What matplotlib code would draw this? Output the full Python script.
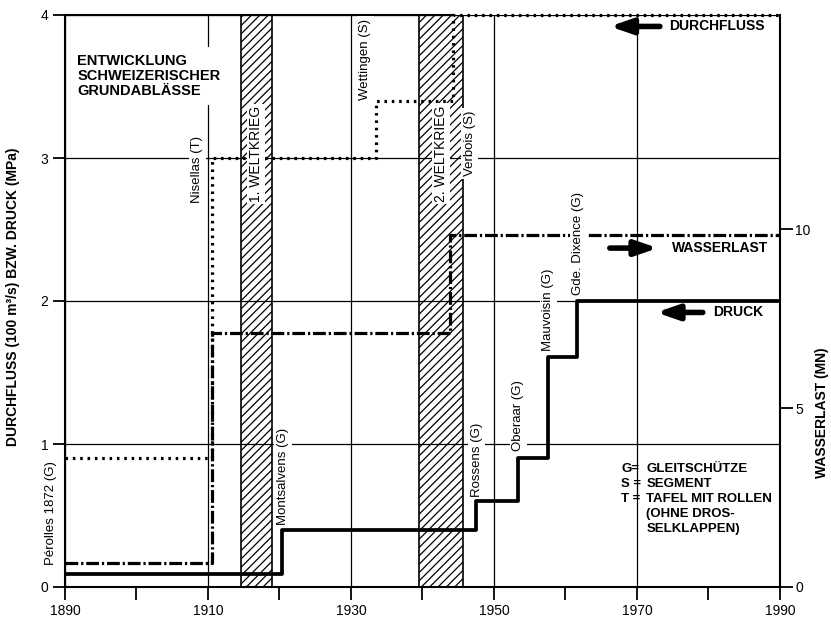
import matplotlib
matplotlib.use('Agg')
import matplotlib.pyplot as plt

plt.rcParams['font.family'] = ['Liberation Sans', 'DejaVu Sans']
plt.rcParams['hatch.linewidth'] = 0.9

# Durchfluss (100 m3/s), linke Achse
durchfluss_jahre = [1890, 1910.5, 1933.5, 1944.2, 1990]
durchfluss_werte = [0.9, 3.0, 3.4, 4.0, 4.0]

# Druck (MPa), linke Achse
druck_jahre = [1890, 1920.4, 1947.5, 1953.4, 1957.5, 1961.6, 1990]
druck_werte = [0.09, 0.4, 0.6, 0.9, 1.61, 2.0, 2.0]

# Wasserlast (MN), rechte Achse
wasserlast_jahre = [1890, 1910.5, 1943.8, 1990]
wasserlast_werte = [0.66, 7.1, 9.85, 9.85]

# Weltkriege
kriege = [(1914.6, 1918.9, '1. WELTKRIEG'), (1939.5, 1945.6, '2. WELTKRIEG')]

# Anlagen (Jahr, Hoehe der Beschriftung, Text)
anlagen = [
    (1888.1, 0.52, 'Pérolles 1872 (G)'),
    (1908.5, 2.92, 'Nisellas (T)'),
    (1932.0, 3.69, 'Wettingen (S)'),
    (1946.6, 3.10, 'Verbois (S)'),
    (1920.5, 0.77, 'Montsalvens (G)'),
    (1947.6, 0.89, 'Rossens (G)'),
    (1953.4, 1.20, 'Oberaar (G)'),
    (1957.6, 1.94, 'Mauvoisin (G)'),
    (1961.8, 2.40, 'Gde. Dixence (G)'),
]

x_ticks = [1890, 1910, 1930, 1950, 1970, 1990]
x_minor = [1900, 1920, 1940, 1960, 1980]
y_ticks = [0, 1, 2, 3, 4]
y2_ticks = [0, 5, 10]

fig = plt.figure(figsize=(8.31, 6.19), dpi=100)
ax = fig.add_axes([65 / 831, 32 / 619, 715 / 831, 572 / 619])
ax2 = ax.twinx()
ax.set_zorder(ax2.get_zorder() + 1)
ax.patch.set_visible(False)

ax.set_xlim(1890, 1990)
ax.set_ylim(0, 4)
ax2.set_ylim(0, 16)

ax.set_xticks(x_ticks)
ax.set_xticks(x_minor, minor=True)
ax.set_yticks(y_ticks)
ax2.set_yticks(y2_ticks)
ax.tick_params(axis='x', which='both', direction='out', length=9, width=1.3, pad=3, labelsize=10)
ax.tick_params(axis='y', direction='out', length=9, width=1.3, pad=3, labelsize=10)
ax2.tick_params(axis='y', direction='out', length=9, width=1.3, pad=2, labelsize=10)

ax.grid(True, which='major', color='black', lw=0.9)
ax.set_axisbelow(True)

for s in ['left', 'bottom']:
    ax.spines[s].set_linewidth(1.5)
ax.spines['right'].set_visible(False)
ax.spines['top'].set_linewidth(1.5)
ax.spines['top'].set_bounds(1890, durchfluss_jahre[3])
ax2.spines['right'].set_linewidth(1.5)
for s in ['left', 'top', 'bottom']:
    ax2.spines[s].set_visible(False)

# Kriegsbalken
for start, ende, name in kriege:
    ax.axvspan(start, ende, facecolor='none', edgecolor='black', hatch='////', lw=1.2, zorder=1)
    ax.text((start + ende) / 2, 3.03, name, rotation=90, ha='center', va='center', fontsize=10,
            bbox=dict(boxstyle='square,pad=0.15', fc='white', ec='none'), zorder=5)

# Kurven
ax.step(durchfluss_jahre, durchfluss_werte, where='post', color='black', lw=2.3,
        ls=(0, (0.8, 1.5)), zorder=3, clip_on=False)
ax.step(druck_jahre, druck_werte, where='post', color='black', lw=2.7, zorder=3)
ax2.step(wasserlast_jahre, wasserlast_werte, where='post', color='black', lw=2.3,
         ls=(0, (4, 0.9, 0.7, 0.9)), zorder=3)

# Beschriftungen der Anlagen
for x, y, name in anlagen:
    ax.text(x, y, name, rotation=90, ha='center', va='center', fontsize=9.5,
            bbox=dict(boxstyle='square,pad=0.2', fc='white', ec='none'), zorder=5, clip_on=False)

ax.text(1891.7, 3.73, 'ENTWICKLUNG\nSCHWEIZERISCHER\nGRUNDABLÄSSE', ha='left', va='top',
        fontsize=10.5, fontweight='bold', linespacing=1.12,
        bbox=dict(boxstyle='square,pad=0.45', fc='white', ec='none'), zorder=5)

# Pfeile
pfeil = dict(arrowstyle='-|>,head_length=1.3,head_width=0.45', lw=4, color='black',
             shrinkA=0, shrinkB=0)
ax.annotate('', xy=(1966.2, 3.92), xytext=(1973.2, 3.92), arrowprops=pfeil, zorder=4)
ax.text(1974.5, 3.92, 'DURCHFLUSS', ha='left', va='center', fontsize=10, fontweight='bold')
ax.annotate('', xy=(1972.9, 2.37), xytext=(1966.2, 2.37), arrowprops=pfeil, zorder=4)
ax.text(1974.9, 2.37, 'WASSERLAST', ha='left', va='center', fontsize=10, fontweight='bold')
ax.annotate('', xy=(1972.7, 1.92), xytext=(1979.2, 1.92), arrowprops=pfeil, zorder=4)
ax.text(1980.6, 1.92, 'DRUCK', ha='left', va='center', fontsize=10, fontweight='bold')

# Legende
ax.text(1967.8, 0.87, 'G=\nS =\nT =', ha='left', va='top', fontsize=9.5, fontweight='bold',
        linespacing=1.35, zorder=6)
ax.text(1971.3, 0.87, 'GLEITSCHÜTZE\nSEGMENT\nTAFEL MIT ROLLEN\n(OHNE DROS-\nSELKLAPPEN)',
        ha='left', va='top', fontsize=9.5, fontweight='bold', linespacing=1.35,
        bbox=dict(boxstyle='square,pad=0.4', fc='white', ec='none'), zorder=5)

fig.text(0.016, (619 - 297) / 619, 'DURCHFLUSS (100 m³/s) BZW. DRUCK (MPa)',
         rotation=90, ha='center', va='center', fontsize=10, fontweight='bold')
fig.text(822 / 831, (619 - 413) / 619, 'WASSERLAST (MN)', rotation=90, ha='center', va='center',
         fontsize=10, fontweight='bold')

fig.savefig('out.png', dpi=100, facecolor='white')
